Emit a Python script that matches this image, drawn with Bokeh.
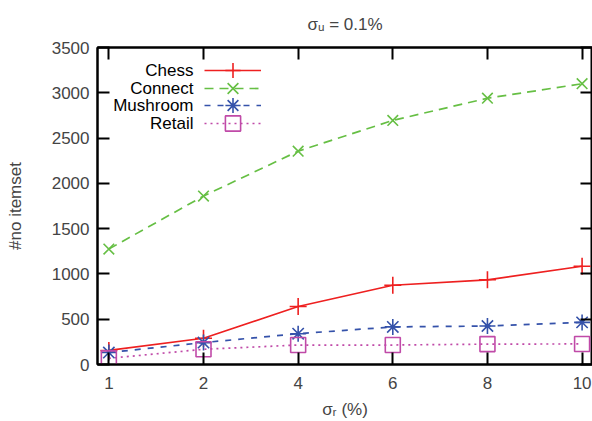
from bokeh.plotting import figure
from bokeh.models import Range1d, LinearAxis, FixedTicker, Legend, LegendItem, Label
from bokeh.embed import file_html
from bokeh.resources import INLINE

# ---- data ----
sigma_r_labels = ["1", "2", "4", "6", "8", "10"]
chess = [155, 290, 640, 875, 935, 1085]
connect = [1275, 1860, 2355, 2695, 2940, 3100]
mushroom = [132, 242, 340, 415, 425, 465]
retail = [68, 168, 215, 215, 225, 227]
series_names = ["Chess", "Connect", "Mushroom", "Retail"]
y_ticks = [0, 500, 1000, 1500, 2000, 2500, 3000, 3500]
title_text = "σᵤ = 0.1%"
x_label = "σᵣ (%)"
y_label = "#no itemset"

# ---- style ----
FONT = "Liberation Sans"
FS = "17px"
colors = ["#ee2020", "#66bf44", "#3552aa", "#c04aa8"]
dashes = ["solid", "9 6", "6 7", "2 4"]
markers = ["cross", "x", "asterisk", "square"]
msizes = [17, 15, 16, 15]

xs = list(range(len(sigma_r_labels)))
series = [chess, connect, mushroom, retail]

W, H = 592, 421
TOP, BOTTOM, LEFT = 47, 57, 97
FRAME_H = H - TOP - BOTTOM
p = figure(width=W, height=H,
           output_backend="svg", toolbar_location=None,
           x_range=Range1d(-0.12, 5.11), y_range=Range1d(0, 3500),
           min_border_left=LEFT, min_border_right=0, min_border_top=TOP, min_border_bottom=BOTTOM,
           x_axis_type=None, y_axis_type=None)

p.title.text = title_text
p.title.align = "center"
p.title.vertical_align = "top"
p.title.text_font = FONT
p.title.text_font_size = FS
p.title.text_font_style = "normal"
p.title.standoff = 24

p.xgrid.visible = False
p.ygrid.visible = False
p.outline_line_color = "black"
p.outline_line_width = 2
p.background_fill_color = "white"
p.border_fill_color = "white"

xticker = FixedTicker(ticks=xs)
yticker = FixedTicker(ticks=y_ticks)
overrides = {i: lab for i, lab in enumerate(sigma_r_labels)}

def style_axis(ax, show_labels):
    ax.axis_line_color = "black"
    ax.axis_line_width = 2
    ax.major_tick_line_color = "black"
    ax.major_tick_line_width = 2
    ax.major_tick_in = 12
    ax.major_tick_out = 0
    ax.minor_tick_line_color = None
    ax.major_label_text_font = FONT
    if show_labels:
        ax.major_label_text_font_size = FS
        ax.major_label_standoff = 8
    else:
        ax.major_label_text_font_size = "0px"
        ax.major_label_text_color = None
        ax.major_label_standoff = 0
    ax.axis_label_text_font = FONT
    ax.axis_label_text_font_size = FS
    ax.axis_label_text_font_style = "normal"

xb = LinearAxis(ticker=xticker, major_label_overrides=overrides, axis_label=x_label)
style_axis(xb, True)
xb.major_label_standoff = 12
xb.axis_label_standoff = 8
p.add_layout(xb, "below")

yl = LinearAxis(ticker=yticker, axis_label=y_label)
style_axis(yl, True)
yl.axis_label_standoff = 24
p.add_layout(yl, "left")

xt = LinearAxis(ticker=xticker)
style_axis(xt, False)
p.add_layout(xt, "above")

yr = LinearAxis(ticker=yticker)
style_axis(yr, False)
p.add_layout(yr, "right")

ROW = 17.6
GH = 38
FIRST_ROW = 23  # px below frame top
for i, (name, vals, c, d, m, s) in enumerate(zip(series_names, series, colors, dashes, markers, msizes)):
    r1 = p.line(xs, vals, line_color=c, line_width=1.7, line_dash=d)
    r2 = p.scatter(xs, vals, marker=m, size=s, line_color=c, fill_color=None, line_width=1.6)
    row_c = FIRST_ROW + ROW * i
    leg = Legend(items=[LegendItem(label=" ", renderers=[r1, r2])],
                 location=(107, int(round(FRAME_H - row_c - GH / 2))),
                 glyph_width=57, glyph_height=GH, label_height=GH, spacing=0,
                 padding=0, margin=0, label_standoff=0, label_width=1,
                 border_line_color=None, background_fill_alpha=0,
                 label_text_font_size="1px", label_text_color=None)
    p.add_layout(leg, "center")
    p.add_layout(Label(x=96, y=FRAME_H - row_c,
                       x_units="screen", y_units="screen", text=name,
                       text_align="right", text_baseline="middle",
                       text_font=FONT, text_font_size=FS, text_color="black"))

open("out.html", "w").write(file_html(p, INLINE))
